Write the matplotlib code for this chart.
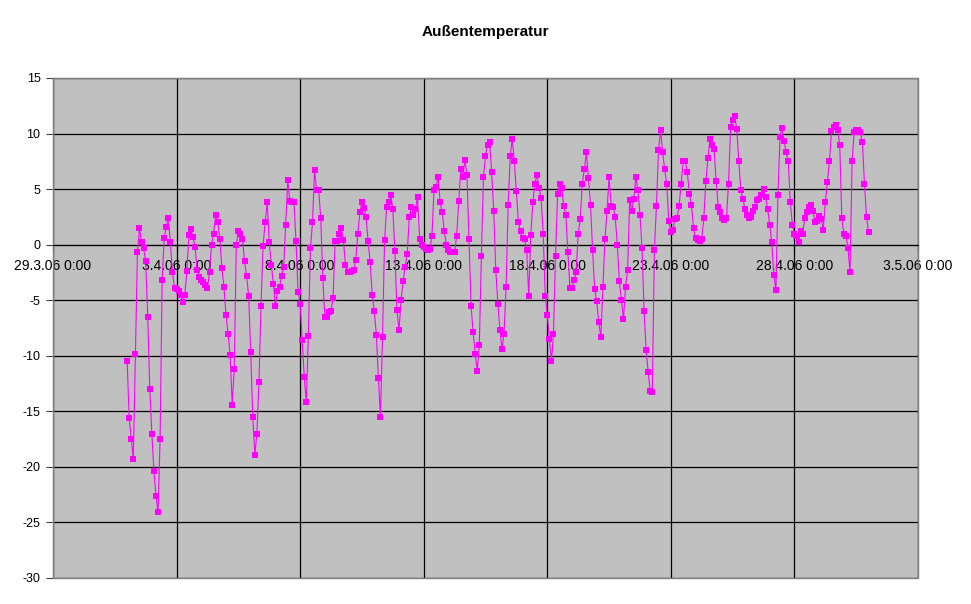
"""Außentemperatur -- Excel-style line chart, 1.4.06 - 1.5.06, 2-hourly readings."""
import numpy as np
import pandas as pd
import matplotlib
matplotlib.use("Agg")
import matplotlib.pyplot as plt
from matplotlib.patches import Rectangle

# ---- data (one row per day: 0,2,...,22 h) ----
start = "2006-04-01 00:00"
step = "2h"
temps = [
    -10.5, -15.6, -17.5, -19.3, -9.8, -0.7, 1.5, 0.2, -0.3, -1.5, -6.5, -13.0,     # 1.4
    -17.0, -20.4, -22.6, -24.1, -17.5, -3.2, 0.6, 1.6, 2.4, 0.2, -2.5, -3.9,       # 2.4
    -4.0, -4.2, -4.5, -5.2, -4.5, -2.4, 0.9, 1.4, 0.7, -0.2, -2.3, -2.9,           # 3.4
    -3.2, -3.4, -3.6, -3.9, -2.5, 0.0, 1.0, 2.7, 2.0, 0.5, -2.1, -3.8,             # 4.4
    -6.3, -8.0, -9.9, -14.4, -11.2, 0.0, 1.2, 1.0, 0.5, -1.5, -2.8, -4.6,          # 5.4
    -9.7, -15.5, -18.9, -17.0, -12.4, -5.5, -0.1, 2.0, 3.8, 0.2, -1.8, -3.5,       # 6.4
    -5.5, -4.2, -3.8, -2.8, -2.0, 1.8, 5.8, 3.9, 3.8, 3.8, 0.3, -4.3,              # 7.4
    -5.3, -8.6, -11.9, -14.2, -8.2, -0.3, 2.0, 6.7, 4.9, 4.9, 2.4, -3.0,           # 8.4
    -6.5, -6.5, -6.1, -6.0, -4.8, 0.3, 0.3, 1.0, 1.5, 0.4, -1.8, -2.5,             # 9.4
    -2.5, -2.4, -2.3, -1.4, 1.0, 2.9, 3.8, 3.3, 2.5, 0.3, -1.6, -4.5,              # 10.4
    -6.0, -8.1, -12.0, -15.5, -8.3, 0.4, 3.4, 3.8, 4.5, 3.2, -0.6, -5.9,           # 11.4
    -7.7, -5.0, -3.3, -2.0, -0.8, 2.5, 3.4, 2.7, 3.2, 4.3, 0.5, 0.0,               # 12.4
    -0.2, -0.4, -0.5, -0.4, 0.8, 4.9, 5.2, 6.1, 3.8, 2.9, 1.2, 0.0,                # 13.4
    -0.5, -0.7, -0.7, -0.7, 0.8, 3.9, 6.8, 6.1, 7.6, 6.3, 0.5, -5.5,               # 14.4
    -7.9, -9.8, -11.4, -9.0, -1.0, 6.1, 8.0, 9.0, 9.2, 6.5, 3.0, -2.3,             # 15.4
    -5.3, -7.7, -9.4, -8.0, -3.8, 3.6, 8.0, 9.5, 7.5, 4.8, 2.0, 1.2,               # 16.4
    0.6, 0.5, -0.5, -4.6, 0.9, 3.8, 5.5, 6.3, 5.1, 4.2, 1.0, -4.6,                 # 17.4
    -6.3, -8.5, -10.5, -8.0, -1.0, 4.6, 5.5, 5.1, 3.5, 2.7, -0.7, -3.9,            # 18.4
    -3.9, -3.2, -2.5, 1.0, 2.3, 5.5, 6.8, 8.3, 6.0, 3.6, -0.5, -4.0,               # 19.4
    -5.1, -7.0, -8.3, -3.8, 0.5, 3.0, 6.1, 3.5, 3.4, 2.5, 0.0, -3.3,               # 20.4
    -5.0, -6.7, -3.8, -2.3, 4.0, 3.0, 4.1, 6.1, 4.9, 2.7, -0.3, -6.0,              # 21.4
    -9.5, -11.5, -13.2, -13.3, -0.5, 3.5, 8.5, 10.3, 8.3, 6.8, 5.5, 2.1,           # 22.4
    1.1, 1.35, 2.3, 2.4, 3.5, 5.5, 7.5, 7.5, 6.5, 4.6, 3.6, 1.5,                   # 23.4
    0.6, 0.4, 0.3, 0.5, 2.4, 5.7, 7.8, 9.5, 9.0, 8.6, 5.7, 3.4,                    # 24.4
    2.9, 2.4, 2.2, 2.4, 5.5, 10.6, 11.2, 11.6, 10.4, 7.5, 4.9, 4.1,                # 25.4
    3.2, 2.7, 2.4, 2.5, 3.0, 3.4, 4.0, 4.1, 4.5, 5.0, 4.3, 3.2,                    # 26.4
    1.8, 0.2, -2.7, -4.1, 4.5, 9.7, 10.5, 9.3, 8.3, 7.5, 3.8, 1.8,                 # 27.4
    1.0, 0.8, 0.2, 1.2, 1.0, 2.4, 2.9, 3.4, 3.6, 3.0, 2.0, 2.1,                    # 28.4
    2.6, 2.3, 1.35, 3.8, 5.6, 7.5, 10.2, 10.6, 10.8, 10.3, 9.0, 2.4,               # 29.4
    1.0, 0.8, -0.3, -2.5, 7.5, 10.1, 10.3, 10.3, 10.1, 9.2, 5.5, 2.5,              # 30.4
    1.1,                                                                           # 1.5 0:00
]
tick_dates = ["2006-03-29", "2006-04-03", "2006-04-08", "2006-04-13",
              "2006-04-18", "2006-04-23", "2006-04-28", "2006-05-03"]
tick_labels = ["29.3.06 0:00", "3.4.06 0:00", "8.4.06 0:00", "13.4.06 0:00",
               "18.4.06 0:00", "23.4.06 0:00", "28.4.06 0:00", "3.5.06 0:00"]
y_ticks = [15, 10, 5, 0, -5, -10, -15, -20, -25, -30]

plt.rcParams["font.family"] = ["Liberation Sans", "DejaVu Sans"]

times = pd.date_range(start, periods=len(temps), freq=step)
xt = pd.to_datetime(tick_dates)

fig = plt.figure(figsize=(9.71, 6.04), dpi=100, facecolor="white")
ax = fig.add_axes([53 / 971, 26 / 604, 865 / 971, 500 / 604])
ax.set_facecolor("#C0C0C0")

ax.plot(times, temps, color="#FF00FF", lw=0.8, marker="s", ms=4.4,
        mec="#FF00FF", mew=0, zorder=3)

ax.set_xlim(xt[0], xt[-1])
ax.set_ylim(-30, 15)
ax.set_yticks(y_ticks)
ax.set_yticklabels([str(v) for v in y_ticks], fontsize=9)
ax.set_xticks(xt)
ax.set_xticklabels(tick_labels, fontsize=9)

ax.set_axisbelow(True)
ax.grid(True, color="black", lw=0.9)

# category axis crosses at 0, like Excel
ax.spines["bottom"].set_position(("data", 0))
ax.spines["bottom"].set_color("black")
for s in ["left", "right", "top"]:
    ax.spines[s].set_color("#808080")
ax.add_patch(Rectangle((0, 0), 1, 1, transform=ax.transAxes, fill=False,
                       edgecolor="#808080", lw=1.0, zorder=2.5, clip_on=False))

ax.tick_params(axis="y", direction="out", length=5, width=0.8, pad=4,
               color="#404040")
ax.tick_params(axis="x", direction="out", length=4, width=0.8, pad=6,
               color="black")

fig.text(0.5, 1 - 32 / 604, "Außentemperatur", ha="center", va="center",
         fontsize=11, fontweight="bold")

fig.savefig("out.png", dpi=100, facecolor="white")
